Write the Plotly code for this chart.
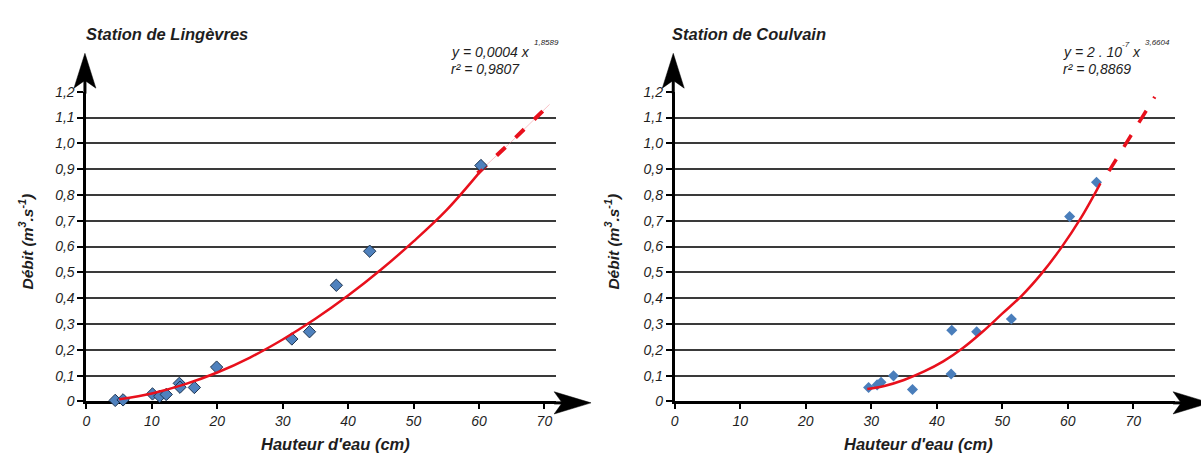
import plotly.graph_objects as go

# ---------------- data ----------------
# Station de Lingèvres : measured points
lin_h = [4.4, 5.6, 10.1, 11.2, 12.2, 14.2, 14.3, 16.5, 19.9, 31.4, 34.1, 38.2, 43.3, 60.3]
lin_q = [0.004, 0.006, 0.029, 0.020, 0.027, 0.070, 0.055, 0.054, 0.133, 0.242, 0.270, 0.450, 0.582, 0.914]
# fitted curve
lin_fit_h = [5, 10, 15, 20, 25, 30, 35, 40, 45, 50, 55, 60.5]
lin_fit_q = [0.008, 0.031, 0.066, 0.112, 0.170, 0.240, 0.320, 0.410, 0.510, 0.620, 0.740, 0.900]
lin_ext_h = [59.8, 64.7, 70.8]
lin_ext_q = [0.884, 1.000, 1.151]

# Station de Coulvain : measured points
cou_h = [29.6, 30.9, 31.5, 33.4, 36.3, 42.2, 42.3, 46.1, 51.4, 60.3, 64.4]
cou_q = [0.054, 0.064, 0.074, 0.099, 0.046, 0.106, 0.276, 0.270, 0.319, 0.716, 0.849]
cou_fit_h = [29.4, 32, 35, 38, 41, 44, 47, 50, 53, 56, 59, 62, 65]
cou_fit_q = [0.048, 0.060, 0.083, 0.115, 0.155, 0.207, 0.270, 0.340, 0.410, 0.495, 0.595, 0.710, 0.845]
cou_ext_h = [66.3, 69.6, 73.3]
cou_ext_q = [0.892, 1.030, 1.180]

y_ticks = [0, 0.1, 0.2, 0.3, 0.4, 0.5, 0.6, 0.7, 0.8, 0.9, 1.0, 1.1, 1.2]
y_labels = ["0", "0,1", "0,2", "0,3", "0,4", "0,5", "0,6", "0,7", "0,8", "0,9", "1,0", "1,1", "1,2"]
x_ticks = [0, 10, 20, 30, 40, 50, 60, 70]
x_labels = ["0", "10", "20", "30", "40", "50", "60", "70"]

titles = ["Station de Lingèvres", "Station de Coulvain"]
x_title = "Hauteur d'eau (cm)"
y_title = "Débit (m<sup>3</sup>.s<sup>-1</sup>)"

# ---------------- layout helpers ----------------
W, H = 1201, 463
def px(x):
    return x / W
def py(y):
    return 1 - y / H

FONT = "Liberation Sans, Arial, sans-serif"
TXT = "#1e1e1e"
RED = "#e8101c"
BLUE = "#4f81bd"

Y0, Y1 = 407.5, 86.7           # pixel rows of 0 and 1.2
L_X0, L_X1 = 82.7, 554.0
R_X0, R_X1 = 673.0, 1175.0

fig = go.Figure()

# left traces
fig.add_trace(go.Scatter(x=lin_ext_h, y=lin_ext_q, mode="lines", xaxis="x", yaxis="y",
                         line=dict(color="rgba(240,120,130,0.45)", width=1), hoverinfo="skip"))
fig.add_trace(go.Scatter(x=lin_ext_h, y=lin_ext_q, mode="lines", xaxis="x", yaxis="y",
                         line=dict(color=RED, width=4, dash="12px,14px"), hoverinfo="skip"))
fig.add_trace(go.Scatter(x=lin_h, y=lin_q, mode="markers", xaxis="x", yaxis="y", cliponaxis=False,
                         marker=dict(symbol="diamond", size=9.5, color=BLUE,
                                     line=dict(color="#1f3550", width=1))))
fig.add_trace(go.Scatter(x=lin_fit_h, y=lin_fit_q, mode="lines", xaxis="x", yaxis="y",
                         line=dict(color=RED, width=2.5, shape="spline"), hoverinfo="skip"))

# right traces
fig.add_trace(go.Scatter(x=cou_h, y=cou_q, mode="markers", xaxis="x2", yaxis="y2", cliponaxis=False,
                         marker=dict(symbol="diamond", size=8.5, color="#4a7ebb", line=dict(width=0))))
fig.add_trace(go.Scatter(x=cou_fit_h, y=cou_fit_q, mode="lines", xaxis="x2", yaxis="y2",
                         line=dict(color=RED, width=2.5, shape="spline"), hoverinfo="skip"))
fig.add_trace(go.Scatter(x=cou_ext_h, y=cou_ext_q, mode="lines", xaxis="x2", yaxis="y2",
                         line=dict(color=RED, width=3.5,
                                   dash="14px,14.5px,14px,14.5px,14px,14.5px,3.5px,30px"),
                         hoverinfo="skip"))

ydom = [py(Y0), py(Y1)]

def xaxis_cfg(x0, x1, xmax):
    return dict(domain=[px(x0), px(x1)], range=[0, xmax], tickvals=x_ticks, ticktext=x_labels,
                showgrid=False, zeroline=False, showline=True, linecolor="black", linewidth=3,
                ticks="outside", ticklen=5, tickwidth=1.5, tickcolor="black",
                tickfont=dict(family=FONT, size=14, color=TXT, style="italic"),
                layer="below traces", fixedrange=True)

def yaxis_cfg(anchor):
    return dict(domain=ydom, range=[0, 1.2], tickvals=y_ticks, ticktext=y_labels, anchor=anchor,
                showgrid=True, gridcolor="#3a3a3a", gridwidth=2, zeroline=False,
                showline=True, linecolor="black", linewidth=3,
                ticks="outside", ticklen=6, tickwidth=1.5, tickcolor="black",
                tickfont=dict(family=FONT, size=14, color=TXT, style="italic"),
                layer="below traces", fixedrange=True)

fig.update_layout(
    width=W, height=H, margin=dict(l=0, r=0, t=0, b=0),
    paper_bgcolor="white", plot_bgcolor="white", showlegend=False,
    xaxis=xaxis_cfg(L_X0, L_X1, 71.8) | dict(anchor="y"),
    yaxis=yaxis_cfg("x"),
    xaxis2=xaxis_cfg(R_X0, R_X1, 76.4) | dict(anchor="y2"),
    yaxis2=yaxis_cfg("x2"),
)

shapes = []
def seg(x0, y0, x1, y1, w=3):
    shapes.append(dict(type="line", xref="paper", yref="paper", x0=px(x0), y0=py(y0),
                       x1=px(x1), y1=py(y1), line=dict(color="black", width=w), layer="above"))
def poly(pts):
    d = "M " + " L ".join(f"{px(a):.5f},{py(b):.5f}" for a, b in pts) + " Z"
    shapes.append(dict(type="path", xref="paper", yref="paper", path=d,
                       fillcolor="black", line=dict(color="black", width=0.5), layer="above"))

for ax0, ax1 in [(L_X0 - 1.5, L_X1), (R_X0 - 1.5, R_X1)]:
    # vertical arrow
    seg(ax0, Y1 + 2, ax0, 74)
    poly([(ax0, 47), (ax0 + 11, 83), (ax0, 75), (ax0 - 11, 83)])
    # horizontal arrow
    yy = Y0 + 1.5
    seg(ax1 - 2, yy, ax1 + 6, yy)
    poly([(ax1 + 35, yy), (ax1 - 2, yy - 11.5), (ax1 + 6, yy), (ax1 - 2, yy + 11.5)])

fig.update_layout(shapes=shapes)

ann = []
def text(x, y, s, size, bold=False, xanchor="left", angle=0, color=TXT):
    f = dict(family=FONT, size=size, color=color, style="italic")
    if bold:
        f["weight"] = "bold"
    ann.append(dict(xref="paper", yref="paper", x=px(x), y=py(y), text=s, showarrow=False,
                    xanchor=xanchor, yanchor="middle", textangle=angle, font=f))

# titles
text(80, 27, titles[0], 16.5, bold=True)
text(668, 27, titles[1], 16.5, bold=True)
# axis titles
text(333, 452, x_title, 16.5, bold=True, xanchor="center")
text(918, 452, x_title, 16.5, bold=True, xanchor="center")
text(22, 242, y_title, 15.5, bold=True, xanchor="center", angle=-90)
text(610, 242, y_title, 15.5, bold=True, xanchor="center", angle=-90)
# equations
text(446, 46, "y = 0,0004 x", 14)
text(530, 36, "1,8589", 8)
text(446, 63, "r² = 0,9807", 14)
text(1061, 46, "y = 2 . 10", 14)
text(1120, 38, "-7", 8)
text(1130, 46, "x", 14)
text(1143, 36, "3,6604", 8)
text(1061, 63, "r² = 0,8869", 14)

fig.update_layout(annotations=ann)

post = ("var d=document.getElementById('{plot_id}');"
        "[document.documentElement, document.body].forEach(function(e){"
        "e.style.margin='0';e.style.padding='0';e.style.overflow='hidden';});"
        "d.style.position='fixed';d.style.left='0';d.style.top='0';")

fig.write_html("out.html", config={"displayModeBar": False}, post_script=post)
